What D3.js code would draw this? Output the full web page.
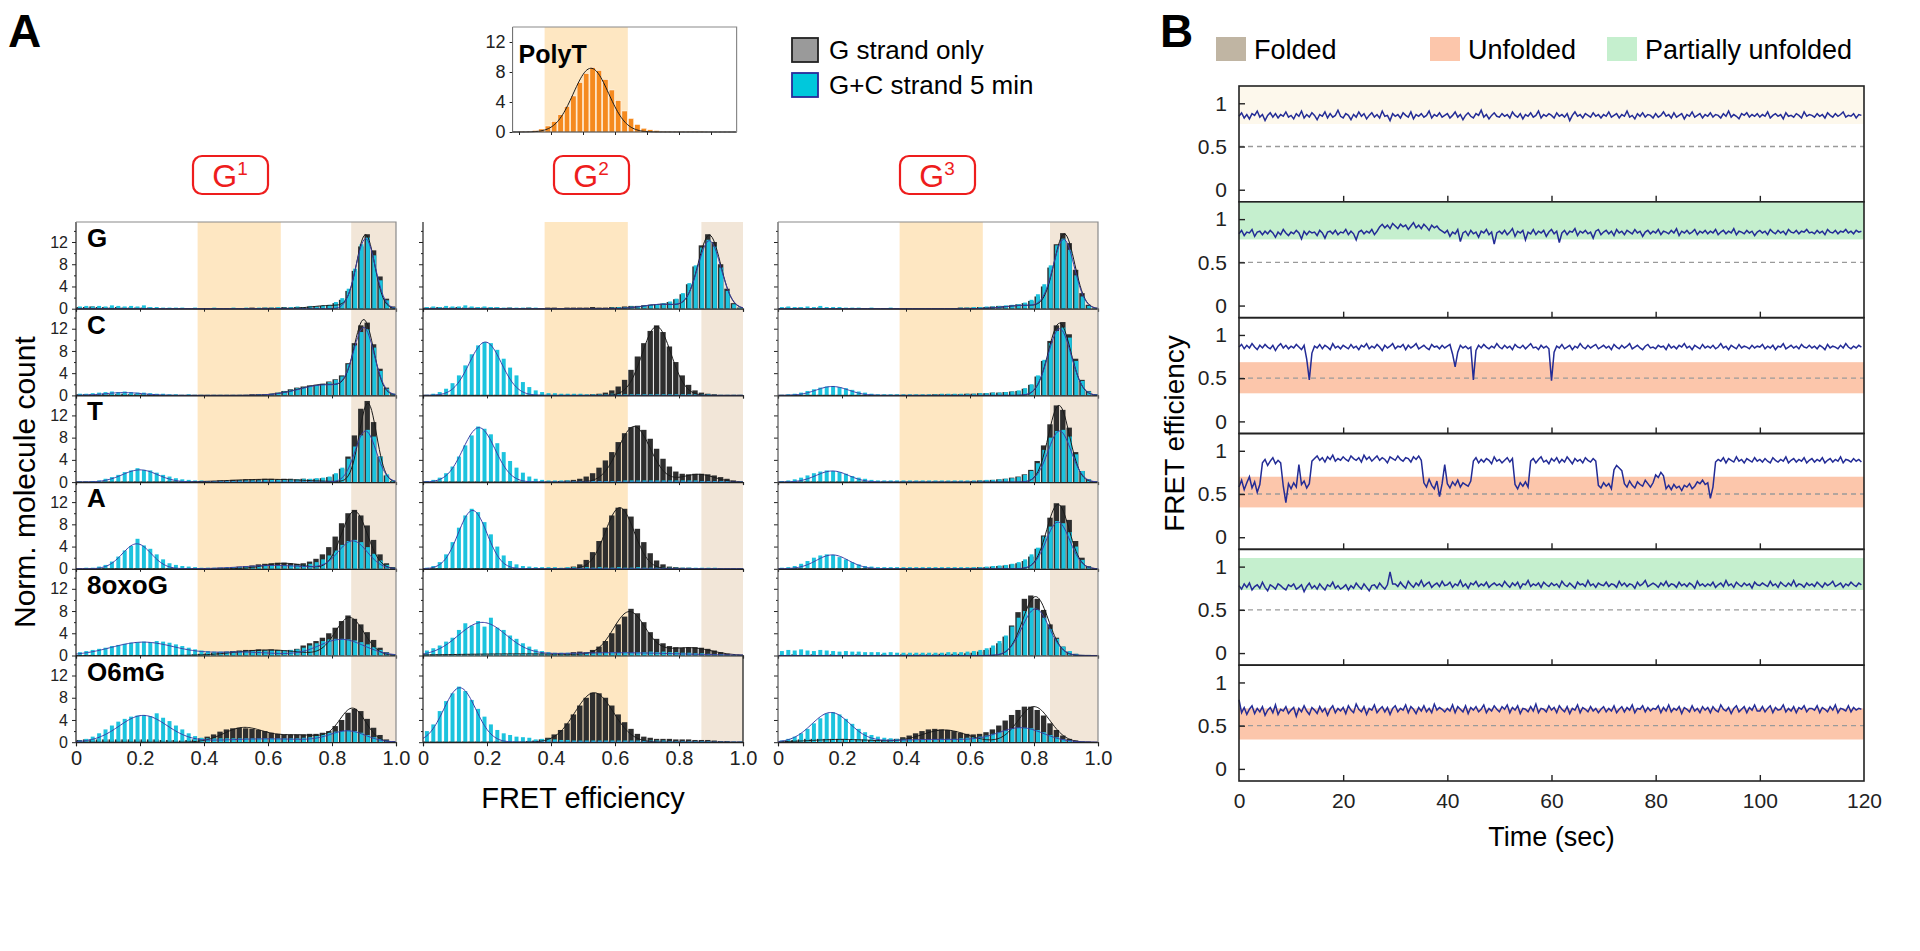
<!DOCTYPE html>
<html>
<head>
<meta charset="utf-8">
<script src="https://cdn.jsdelivr.net/npm/d3@7"></script>
<style>
  body { margin: 0; background: #fff; }
  svg { font-family: "Liberation Sans", Arial, Helvetica, sans-serif; }
</style>
</head>
<body>
<svg id="fig" width="1920" height="951"></svg>
<script>
/* global d3 */

/* ---------- Panel A data: normalised counts per FRET bin (0.02 wide, 0..1) ---------- */
var rowNames = ['G', 'C', 'T', 'A', '8oxoG', 'O6mG'];
var colNames = ['G1', 'G2', 'G3'];
var binWidth = 0.02;
var xTicksA = [0, 0.2, 0.4, 0.6, 0.8, 1.0];
var yTicksA = [0, 4, 8, 12];
var yMinorA = [2, 6, 10, 14];

// gs = G strand only, gc = G+C strand 5 min
var G1_G_gs = [.3,.3,.4,.3,.3,.2,.3,.2,.2,.2, .2,.2,.1,.1,.1,.1,.1,.1,.1,.1, .1,.1,.1,.1,.1,.1,.1,.2,.1,.2, .2,.2,.3,.2,.3,.3,.4,.4,.5,.6, 1.0,1.6,3.2,6.8,11.2,13.4,10.5,5.8,1.8,.4];
var G1_G_gc = [.4,.5,.4,.5,.4,.6,.5,.4,.5,.4, .6,.3,.3,.2,.2,.2,.2,.1,.2,.1, .1,.2,.1,.1,.2,.1,.2,.1,.2,.2, .2,.3,.2,.3,.4,.3,.5,.4,.6,.7, 1.2,1.9,3.6,7.2,11.6,12.8,9.6,5.1,1.5,.3];
var G1_C_gs = [.2,.2,.2,.2,.3,.2,.2,.3,.2,.2, .2,.2,.2,.1,.1,.1,.1,.1,.1,.1, .1,.1,.1,.1,.1,.1,.1,.2,.2,.2, .3,.5,.8,1.1,1.4,1.6,1.8,1.9,2.1,2.5, 2.9,3.6,5.8,9.4,12.6,13.1,9.2,4.8,1.4,.3];
var G1_C_gc = [.3,.3,.4,.5,.6,.7,.6,.7,.6,.5, .5,.4,.3,.3,.2,.2,.1,.2,.1,.1, .1,.1,.1,.1,.1,.1,.1,.1,.2,.2, .3,.5,.7,1.0,1.3,1.5,1.7,1.8,2.0,2.4, 2.8,3.4,5.6,9.0,11.4,11.9,8.6,4.4,1.2,.3];
var G1_T_gs = [.1,.1,.1,.1,.1,.1,.1,.1,.1,.1, .1,.1,.1,.1,.1,.1,.1,.1,.1,.1, .2,.2,.3,.3,.4,.4,.5,.5,.5,.6, .6,.5,.6,.6,.5,.6,.5,.6,.7,.9, 1.4,2.4,4.6,8.4,13.2,14.6,10.8,4.6,1.2,.2];
var G1_T_gc = [.1,.1,.2,.3,.6,.9,1.3,1.8,2.1,2.5, 2.2,2.1,1.7,1.3,1.0,.7,.5,.4,.3,.3, .2,.2,.2,.2,.2,.3,.3,.3,.3,.4, .4,.4,.4,.5,.5,.6,.6,.7,.8,1.0, 1.6,2.6,4.2,6.4,8.4,9.4,8.2,4.6,1.4,.3];
var G1_A_gs = [.1,.1,.1,.1,.1,.1,.1,.1,.1,.1, .1,.1,.1,.1,.1,.1,.1,.1,.1,.1, .1,.1,.2,.2,.3,.4,.5,.6,.8,.9, 1.0,1.1,1.1,1.0,.9,1.0,1.3,1.8,2.6,3.9, 5.8,8.2,10.0,10.6,9.6,7.8,5.2,2.6,1.0,.3];
var G1_A_gc = [.1,.2,.2,.4,.7,1.3,2.2,3.3,4.1,5.4, 4.2,3.6,2.6,1.7,1.0,.7,.5,.4,.3,.2, .2,.2,.2,.3,.3,.3,.4,.4,.5,.5, .6,.6,.6,.6,.6,.7,.9,1.2,1.7,2.4, 3.3,4.3,5.0,5.2,4.8,3.9,2.7,1.5,.7,.2];
var G1_8oxoG_gs = [.1,.1,.1,.1,.1,.1,.1,.1,.1,.1, .1,.1,.1,.1,.1,.1,.1,.1,.2,.3, .4,.5,.6,.7,.8,.9,1.0,1.0,1.1,1.0, 1.1,1.0,.9,1.0,1.2,1.8,2.2,2.6,3.2,4.0, 5.0,6.2,7.2,6.6,5.6,4.2,2.8,1.4,.6,.2];
var G1_8oxoG_gc = [.6,.8,1.0,1.2,1.4,1.7,1.9,2.1,2.3,2.4, 2.5,2.4,2.6,2.5,2.3,2.0,1.7,1.4,1.1,.9, .8,.7,.7,.7,.7,.8,.8,.8,.8,.9, .9,.9,.9,1.0,1.1,1.4,1.8,2.2,2.6,2.9, 3.0,3.0,2.9,2.7,2.4,2.0,1.5,1.0,.5,.2];
var G1_O6mG_gs = [.4,.5,.5,.5,.5,.5,.5,.5,.5,.5, .5,.5,.5,.4,.4,.4,.3,.4,.5,.7, 1.0,1.4,1.9,2.3,2.5,2.6,2.5,2.4,2.2,2.0, 1.7,1.5,1.4,1.4,1.4,1.4,1.5,1.5,1.7,2.0, 2.9,4.0,5.3,6.0,5.6,4.2,2.6,1.3,.5,.2];
var G1_O6mG_gc = [.3,.6,1.0,1.6,2.3,3.0,3.7,4.2,4.6,4.8, 4.9,4.7,5.2,4.4,3.8,3.0,2.3,1.6,1.1,.8, .7,.7,.7,.7,.7,.7,.7,.7,.7,.7, .7,.7,.7,.7,.7,.8,.9,1.1,1.4,1.7, 1.9,2.0,2.1,2.0,1.7,1.3,.9,.6,.3,.1];

var G2_G_gs = [.2,.2,.3,.2,.2,.3,.2,.2,.2,.2, .2,.2,.1,.2,.1,.1,.2,.1,.1,.2, .2,.1,.2,.2,.2,.2,.3,.2,.2,.3, .3,.4,.5,.5,.6,.7,.8,.9,1.2,1.7, 2.6,4.4,7.6,11.4,13.4,12.0,8.0,3.6,1.0,.2];
var G2_G_gc = [.3,.4,.3,.5,.4,.4,.6,.4,.3,.4, .3,.3,.2,.2,.2,.2,.2,.2,.1,.1, .1,.1,.1,.1,.1,.1,.1,.1,.1,.2, .3,.3,.4,.5,.6,.7,.8,1.0,1.3,1.8, 2.8,4.6,7.8,11.0,12.4,11.2,7.4,3.2,.8,.2];
var G2_C_gs = [.1,.1,.1,.1,.1,.1,.1,.1,.1,.1, .1,.1,.1,.1,.1,.1,.1,.1,.1,.1, .1,.1,.1,.1,.1,.1,.2,.3,.5,.9, 1.6,2.8,4.6,7.0,9.4,11.6,12.6,11.4,8.8,6.0, 3.6,1.9,.9,.5,.3,.2,.1,.1,.1,.1];
var G2_C_gc = [.1,.3,.6,1.2,2.2,3.6,5.4,7.4,9.0,9.6, 9.4,8.2,6.6,5.0,3.6,2.4,1.5,.9,.6,.4, .4,.3,.3,.3,.3,.2,.2,.2,.2,.3, .2,.2,.2,.2,.2,.2,.2,.2,.2,.2, .2,.2,.2,.2,.2,.1,.1,.1,.1,.1];
var G2_T_gs = [.1,.1,.1,.1,.1,.1,.1,.1,.1,.1, .1,.1,.1,.1,.1,.1,.1,.1,.1,.1, .1,.2,.3,.4,.6,1.0,1.6,2.6,3.9,5.4, 7.2,8.8,9.9,10.2,9.4,7.8,6.0,4.2,2.8,1.9, 1.5,1.4,1.5,1.5,1.4,1.2,.9,.6,.3,.1];
var G2_T_gc = [.2,.4,.8,1.6,2.8,4.6,6.6,8.4,10.0,9.6, 8.6,7.0,5.4,3.8,2.6,1.7,1.0,.6,.4,.3, .3,.3,.3,.2,.2,.2,.2,.2,.2,.2, .2,.3,.3,.3,.3,.3,.3,.3,.3,.3, .3,.3,.3,.2,.2,.2,.2,.2,.1,.1];
var G2_A_gs = [.1,.1,.1,.1,.1,.1,.1,.1,.1,.1, .1,.1,.1,.1,.1,.1,.1,.1,.1,.1, .1,.1,.2,.4,.8,1.6,3.0,5.0,7.4,9.6, 11.0,10.8,9.4,7.2,4.8,2.8,1.5,.8,.4,.3, .2,.2,.1,.1,.1,.1,.1,.1,.1,.1];
var G2_A_gc = [.2,.5,1.2,2.6,4.8,7.4,9.6,10.8,10.2,8.4, 6.2,4.0,2.4,1.4,.8,.5,.4,.3,.3,.3, .3,.2,.3,.3,.2,.3,.2,.3,.2,.2, .3,.2,.2,.3,.2,.2,.2,.2,.2,.2, .2,.2,.2,.2,.2,.2,.1,.1,.1,.1];
var G2_8oxoG_gs = [.2,.2,.2,.2,.2,.2,.2,.2,.2,.2, .2,.2,.2,.2,.2,.2,.2,.2,.2,.2, .3,.4,.3,.6,.7,.6,1.0,1.6,2.6,4.0, 5.6,7.0,8.4,7.6,6.0,4.2,3.0,2.2,1.7,1.5, 1.4,1.5,1.5,1.4,1.2,.9,.6,.3,.1,.1];
var G2_8oxoG_gc = [.9,1.3,1.8,2.5,3.2,4.6,5.8,5.4,6.2,5.2, 6.8,5.0,4.6,3.6,3.0,2.2,1.6,1.1,.8,.6, .5,.5,.5,.4,.4,.5,.4,.5,.5,.6, .5,.6,.5,.6,.6,.7,.6,.7,.6,.6, .5,.5,.4,.4,.3,.2,.2,.1,.1,.1];
var G2_O6mG_gs = [.1,.1,.1,.1,.1,.1,.1,.1,.1,.1, .1,.1,.1,.1,.1,.1,.2,.3,.5,.8, 1.4,2.2,3.4,5.0,6.6,8.0,8.9,8.8,8.0,6.6, 5.0,3.6,2.4,1.5,1.0,.8,.6,.6,.6,.5, .5,.5,.4,.4,.4,.3,.2,.2,.1,.1];
var G2_O6mG_gc = [2.0,3.2,5.6,7.4,8.8,10.0,9.2,7.6,6.0,4.6, 3.2,2.2,1.6,1.3,1.0,.9,.8,.5,.6,.6, .5,.4,.4,.3,.3,.3,.3,.3,.3,.3, .3,.3,.3,.3,.3,.3,.3,.3,.2,.2, .2,.2,.2,.2,.2,.1,.1,.1,.1,.1];

var G3_G_gs = [.1,.2,.1,.2,.1,.1,.2,.1,.1,.1, .1,.1,.1,.1,.1,.1,.1,.1,.1,.1, .1,.1,.1,.1,.1,.1,.1,.1,.2,.2, .2,.3,.3,.4,.5,.5,.6,.8,1.0,1.4, 2.2,4.0,7.4,11.6,13.6,11.8,7.0,2.8,.7,.1];
var G3_G_gc = [.3,.4,.3,.3,.4,.3,.5,.3,.3,.3, .2,.2,.2,.1,.2,.1,.1,.2,.1,.1, .1,.1,.1,.1,.1,.1,.1,.1,.2,.2, .3,.3,.4,.4,.5,.6,.7,.8,1.1,1.6, 2.6,4.4,7.8,11.4,12.6,10.6,6.0,2.2,.5,.1];
var G3_C_gs = [.1,.1,.1,.1,.1,.1,.1,.1,.1,.1, .1,.1,.1,.1,.1,.1,.1,.1,.1,.1, .1,.1,.1,.1,.2,.2,.2,.2,.2,.3, .3,.4,.4,.5,.5,.6,.7,.8,1.2,1.9, 3.4,6.2,9.8,12.6,13.2,11.0,6.6,2.8,.8,.2];
var G3_C_gc = [.1,.2,.3,.5,.8,1.1,1.4,1.6,1.7,1.5, 1.3,1.0,.7,.5,.3,.2,.2,.2,.2,.2, .2,.2,.2,.2,.2,.3,.3,.3,.3,.3, .3,.4,.4,.5,.5,.6,.7,.9,1.3,2.0, 3.6,6.4,9.4,11.6,12.2,10.4,6.2,2.6,.7,.2];
var G3_T_gs = [.1,.1,.1,.1,.1,.1,.1,.1,.1,.1, .1,.1,.1,.1,.1,.1,.1,.1,.1,.1, .1,.1,.1,.1,.1,.1,.1,.1,.1,.1, .2,.3,.3,.4,.5,.6,.8,1.0,1.4,2.2, 3.8,6.6,10.4,13.8,13.0,9.8,5.4,2.0,.5,.1];
var G3_T_gc = [.2,.3,.5,.8,1.2,1.6,1.9,2.1,2.0,1.8, 1.5,1.1,.8,.6,.4,.3,.3,.3,.3,.3, .3,.3,.3,.3,.3,.3,.3,.3,.3,.3, .3,.3,.4,.4,.5,.6,.7,.9,1.3,2.0, 3.4,5.8,8.0,9.2,9.4,8.2,5.0,2.0,.5,.1];
var G3_A_gs = [.1,.1,.1,.1,.1,.1,.1,.1,.1,.1, .1,.1,.1,.1,.1,.1,.1,.1,.1,.1, .1,.1,.1,.1,.1,.1,.1,.1,.1,.1, .2,.3,.3,.4,.5,.6,.8,1.0,1.4,2.2, 3.6,6.0,9.2,11.8,11.4,8.8,5.0,2.0,.5,.1];
var G3_A_gc = [.2,.3,.5,.9,1.4,2.0,2.4,2.6,2.5,2.1, 1.7,1.2,.8,.5,.4,.3,.3,.3,.3,.3, .3,.3,.3,.3,.3,.3,.3,.3,.3,.3, .3,.3,.4,.5,.6,.7,.9,1.2,1.7,2.6, 3.8,5.8,7.6,8.6,8.2,6.6,4.0,1.6,.4,.1];
var G3_8oxoG_gs = [.1,.1,.2,.1,.1,.2,.1,.1,.2,.1, .1,.1,.2,.1,.1,.1,.2,.1,.1,.2, .2,.2,.2,.2,.2,.3,.3,.3,.3,.4, .5,.7,1.0,1.4,2.2,3.4,5.4,7.8,10.2,10.8, 10.2,8.2,5.6,3.2,1.6,.7,.3,.1,.1,0];
var G3_8oxoG_gc = [.8,1.0,.9,1.1,.9,.8,1.0,.9,.8,.7, .8,.7,.7,.6,.6,.6,.5,.6,.5,.5, .5,.5,.5,.5,.5,.5,.6,.6,.6,.7, .8,1.0,1.3,1.8,2.6,3.6,5.2,6.8,8.0,8.6, 8.2,6.8,4.8,3.0,1.6,.8,.3,.1,.1,0];
var G3_O6mG_gs = [.2,.3,.4,.5,.6,.6,.6,.6,.6,.6, .6,.5,.5,.5,.4,.4,.4,.5,.6,.9, 1.2,1.6,2.0,2.3,2.4,2.3,2.2,2.0,1.7,1.5, 1.4,1.5,1.8,2.3,3.0,3.9,4.9,5.8,6.4,6.4, 5.8,4.8,3.4,2.2,1.2,.6,.3,.1,.1,0];
var G3_O6mG_gc = [.3,.6,1.0,1.6,2.4,3.4,4.3,5.2,5.4,5.0, 4.2,3.3,2.4,1.8,1.3,1.0,.8,.7,.6,.6, .5,.5,.5,.5,.5,.6,.6,.6,.7,.8, .9,1.0,1.2,1.5,1.8,2.1,2.4,2.6,2.6,2.5, 2.2,1.8,1.3,.9,.5,.3,.1,.1,0,0];

var polyT = [0,0,0,0,0,0,0,0,0,0, 0,0,0,0,0,.1,.1,.2,.4,.8, 1.4,2.3,3.4,4.8,6.6,7.8,8.6,8.2,7.0,5.6, 4.2,2.8,1.8,1.0,.5,.3,.2,.1,.1,.1, .1,.1,.1,.1,0,0,0,0,0,0];

// Gaussian fit components [amplitude, centre, sigma]; per row: [G strand only, G+C strand]
var fitG1 = [
  [[[13.2, .905, .028], [.6, .8, .06]], [[12.6, .905, .03]]],
  [[[13, .9, .03], [2, .78, .08]], [[11.6, .9, .032], [1.9, .78, .08], [.5, .15, .06]]],
  [[[14.2, .912, .027], [.5, .6, .12]], [[9.2, .905, .033], [2.2, .2, .055]]],
  [[[10.4, .87, .04], [1.0, .65, .06]], [[4.5, .19, .045], [5.0, .865, .045], [.6, .62, .1]]],
  [[[6.8, .855, .045], [1.0, .6, .1]], [[2.4, .21, .1], [2.9, .83, .07], [.6, .52, .1]]],
  [[[2.4, .52, .06], [5.8, .865, .04], [1.3, .7, .1]], [[4.8, .21, .075], [1.9, .85, .055], [.6, .6, .15]]]
];
var fitG2 = [
  [[[13.2, .895, .035], [.8, .75, .06]], [[12.2, .895, .036], [.8, .75, .06]]],
  [[[12.4, .73, .045]], [[9.6, .195, .05]]],
  [[[10, .66, .05], [1.4, .86, .05]], [[9.8, .175, .05]]],
  [[[11, .615, .045]], [[10.5, .155, .045]]],
  [[[7.8, .645, .05], [1.4, .83, .07], [.3, .3, .2]], [[5.9, .185, .075], [.5, .6, .2]]],
  [[[8.9, .535, .06]], [[9.8, .115, .05]]]
];
var fitG3 = [
  [[[13.4, .895, .032], [.6, .77, .06]], [[12.4, .893, .033], [.6, .77, .06]]],
  [[[13, .88, .035]], [[12, .88, .036], [1.6, .17, .05]]],
  [[[13.8, .878, .033]], [[9.2, .88, .036], [2.0, .17, .05]]],
  [[[11.6, .875, .035]], [[8.4, .875, .037], [2.5, .17, .05]]],
  [[[10.6, .805, .04]], [[8.4, .805, .042]]],
  [[[2.2, .52, .07], [6.4, .8, .05], [.5, .2, .1]], [[5.3, .165, .06], [2.5, .76, .07], [.5, .5, .15]]]
];
var fitPolyT = [[8.5, .525, .055]];

/* ---------- Panel B data: smFRET traces (x100), one sample every 0.5 s ---------- */
var sampleStep = 0.5;
var timeTicks = [0, 20, 40, 60, 80, 100, 120];
var fretTicks = [0, 0.5, 1];
var fretDomain = [-0.14, 1.2];
var stateNames = ['Folded', 'Unfolded', 'Partially unfolded'];
// shaded state band [low, high] for each trace
var traceBands = [[0.76, 1.2], [0.765, 1.2], [0.325, 0.685], [0.345, 0.70], [0.73, 1.1], [0.34, 0.70]];
var traceBandState = ['pale', 'Partially unfolded', 'Unfolded', 'Unfolded', 'Partially unfolded', 'Unfolded'];

var trace1 = [85,89,83,87,82,88,86,91,84,87,80,86,89,84,88,83,87,85,90,84,
  86,82,88,85,91,83,87,84,89,86,81,87,85,90,83,88,84,86,92,85,
  83,88,86,81,87,84,90,85,88,82,86,89,84,87,83,91,85,86,80,88,
  85,87,83,89,86,84,90,82,87,85,88,84,86,91,83,87,85,89,84,86,
  88,83,86,90,84,87,81,86,89,85,83,88,86,92,84,87,82,86,89,85,
  84,88,85,87,83,90,86,84,88,82,87,85,89,84,86,91,83,87,85,88,
  86,83,89,85,87,84,88,80,86,90,85,87,83,88,86,84,89,85,87,83,
  87,85,90,84,86,88,83,87,85,91,84,86,82,88,85,89,84,87,86,83,
  88,84,86,90,85,87,83,89,84,86,88,82,87,85,90,84,86,88,83,87,
  85,89,84,87,86,83,88,85,91,84,87,85,82,88,86,89,84,87,85,88,
  84,87,85,90,83,86,88,85,87,82,89,85,86,84,88,86,83,90,85,87,
  86,84,88,85,87,83,89,86,84,88,85,87,90,84,86,85,88,83,87,86];
var trace2 = [83,87,81,85,84,88,80,85,86,82,86,83,87,84,79,85,82,88,84,81,
  85,83,87,84,77,86,82,86,84,85,81,87,84,78,85,86,83,87,82,85,
  84,88,82,86,83,76,85,87,83,86,84,88,82,86,91,94,90,93,89,95,
  92,89,94,91,93,88,92,96,90,93,89,94,91,87,93,90,92,88,86,84,
  87,80,85,83,88,74,84,86,81,87,83,85,79,86,84,88,82,85,71,84,
  86,83,87,82,85,89,80,86,84,87,76,85,83,88,82,86,84,87,80,85,
  88,83,86,73,84,87,82,86,85,89,81,86,84,87,83,85,78,86,88,82,
  85,87,83,86,81,88,84,86,82,87,85,83,88,84,86,80,85,87,83,86,
  84,88,82,86,85,83,87,84,89,81,86,84,87,83,85,88,82,86,84,87,
  83,86,84,88,82,85,87,83,86,84,89,82,86,85,83,87,84,86,81,85,
  87,84,86,82,88,85,83,87,84,86,82,88,85,84,87,83,86,85,88,84,
  85,83,87,84,86,82,88,85,84,87,83,86,85,88,84,86,83,87,85,86];
var trace3 = [86,89,84,88,85,90,86,83,88,85,89,86,84,88,82,87,90,85,88,84,
  87,85,89,86,83,88,72,48,79,87,85,89,84,88,86,83,90,85,87,84,
  88,86,84,89,85,87,83,88,86,90,84,87,85,89,86,82,88,85,87,90,
  84,87,86,89,83,88,85,87,90,84,86,88,85,83,89,86,87,84,88,85,
  87,89,78,63,80,88,85,87,84,86,48,82,88,85,89,86,84,87,85,90,
  86,84,88,85,87,83,89,86,85,88,84,87,90,85,86,83,88,85,87,84,
  47,80,87,85,89,84,86,88,83,87,85,90,86,84,88,85,87,89,84,86,
  88,85,87,83,89,86,84,88,85,87,90,84,86,88,85,83,87,89,85,86,
  84,88,86,87,83,89,85,87,84,88,86,90,85,87,83,88,86,84,89,85,
  87,85,88,84,86,90,85,87,83,88,86,84,89,85,87,86,84,88,85,87,
  86,89,84,87,85,88,83,87,86,90,84,86,88,85,87,84,89,86,85,88,
  85,87,84,88,86,83,89,85,87,86,84,88,85,90,86,84,87,85,88,86];
var trace4 = [58,66,55,63,70,57,64,52,61,86,90,83,88,92,85,89,86,59,40,62,
  56,63,58,84,61,65,57,62,88,91,94,89,92,87,93,90,95,88,91,89,
  93,90,88,94,91,89,92,87,95,90,93,88,91,94,89,92,90,86,93,91,
  89,94,90,88,92,91,87,93,90,94,89,63,58,67,60,56,65,47,62,84,
  62,57,64,60,66,58,63,61,59,65,88,92,86,90,87,91,89,85,93,88,
  90,86,89,92,87,91,61,56,63,59,64,58,88,91,86,90,93,87,89,85,
  91,88,92,86,90,87,93,89,85,91,88,90,86,92,89,87,91,88,60,57,
  63,59,62,56,78,83,80,77,62,58,65,60,57,64,61,59,66,62,58,63,
  72,69,75,71,56,60,55,61,57,59,54,60,58,62,56,59,64,62,66,61,
  63,45,58,87,90,88,92,86,91,89,87,93,88,90,86,91,89,87,92,88,
  90,87,91,88,86,92,89,87,90,88,93,86,89,91,87,90,88,92,86,89,
  91,87,90,88,92,86,89,91,87,90,88,93,86,90,89,87,91,88,90,87];
var trace5 = [78,74,80,76,81,73,77,79,75,82,76,72,79,77,74,80,78,75,73,79,
  77,80,74,76,79,71,77,81,75,78,74,80,76,73,79,77,82,75,78,74,
  76,79,73,78,75,81,77,74,80,76,72,78,79,75,81,77,74,79,94,80,
  80,77,82,78,75,83,79,76,81,78,84,77,80,82,76,79,81,77,83,78,
  79,82,76,80,78,84,77,80,75,81,79,83,77,80,78,82,76,79,81,78,
  80,77,83,79,76,81,78,82,75,80,79,84,77,80,78,81,76,82,79,77,
  81,78,80,76,83,79,77,81,78,75,82,79,80,77,84,78,80,76,81,79,
  78,82,77,80,79,76,83,78,81,77,80,79,75,82,78,80,84,77,79,81,
  79,76,81,78,83,77,80,79,76,82,78,80,77,81,79,75,83,78,80,77,
  80,78,82,76,79,81,77,84,78,80,76,82,79,77,81,78,80,75,82,79,
  78,81,79,77,83,78,80,76,82,79,77,81,78,84,77,80,79,76,81,78,
  80,77,82,79,76,81,78,80,83,77,79,81,76,80,78,82,79,77,81,79];
var trace6 = [80,65,71,63,69,73,64,70,66,72,62,68,71,65,74,63,69,67,72,64,
  68,71,61,70,66,73,67,63,71,68,64,72,66,70,62,69,73,65,70,67,
  71,64,73,68,65,75,69,66,72,63,70,68,74,65,69,72,66,71,63,70,
  73,66,70,68,74,65,72,69,64,71,67,73,66,70,65,75,68,71,69,66,
  70,67,74,65,72,69,66,73,64,71,68,72,66,69,74,65,70,67,73,69,
  66,72,69,74,65,71,68,73,64,70,69,66,72,67,75,65,70,69,66,73,
  68,71,65,73,69,66,72,64,70,68,74,65,71,69,66,72,67,70,65,69,
  72,66,70,67,73,65,69,72,66,71,68,74,65,70,69,73,66,71,67,70,
  69,73,65,71,67,74,66,70,68,72,64,71,69,66,73,67,70,65,72,68,
  71,65,72,68,66,74,69,67,71,64,70,73,66,69,72,65,71,68,74,67,
  67,72,66,70,73,65,71,68,69,74,66,70,67,72,65,71,69,73,66,70,
  70,68,73,65,71,69,66,72,68,74,65,70,69,67,73,66,71,68,70,69];

/* ---------- tables built from the arrays ---------- */
var hist = {
  G1: [[G1_G_gs, G1_G_gc], [G1_C_gs, G1_C_gc], [G1_T_gs, G1_T_gc], [G1_A_gs, G1_A_gc], [G1_8oxoG_gs, G1_8oxoG_gc], [G1_O6mG_gs, G1_O6mG_gc]],
  G2: [[G2_G_gs, G2_G_gc], [G2_C_gs, G2_C_gc], [G2_T_gs, G2_T_gc], [G2_A_gs, G2_A_gc], [G2_8oxoG_gs, G2_8oxoG_gc], [G2_O6mG_gs, G2_O6mG_gc]],
  G3: [[G3_G_gs, G3_G_gc], [G3_C_gs, G3_C_gc], [G3_T_gs, G3_T_gc], [G3_A_gs, G3_A_gc], [G3_8oxoG_gs, G3_8oxoG_gc], [G3_O6mG_gs, G3_O6mG_gc]]
};
var fits = { G1: fitG1, G2: fitG2, G3: fitG3 };
var traces = [trace1, trace2, trace3, trace4, trace5, trace6];

/* ---------- layout & style ---------- */
var FONT = '"Liberation Sans", Arial, Helvetica, sans-serif';
var colLeft = [76, 423, 778];
var colWidth = 320;
var rowTop = 222;
var rowHeight = 86.7;
var yMax = 15.6;
var unfoldedBand = [0.38, 0.64];
var foldedBand = [[0.86, 1.0], [0.87, 1.0], [0.85, 1.0]];
var boxCentre = [230, 591, 937];

var C = {
  gs: '#2e2e2e', gc: '#1cc3de', gcFit: '#3a3ea6', gsFit: '#1a1a1a',
  orangeBand: '#fee7c2', tanBand: '#f2e6d8', frame: '#8a8a8a', red: '#ee1d1d',
  polyT: '#f58a1f', trace: '#232c96',
  states: { 'Folded': '#c0b5a3', 'Unfolded': '#fcc6ab', 'Partially unfolded': '#c5efce', 'pale': '#fdf8ec' }
};

var svg = d3.select('#fig');

function gaussSum(comps, v) {
  return d3.sum(comps, function(c) {
    return c[0] * Math.exp(-(v - c[1]) * (v - c[1]) / (2 * c[2] * c[2]));
  });
}

function styleAxis(sel, size) {
  sel.attr('font-family', FONT);
  sel.selectAll('text').attr('font-size', size).attr('fill', '#222');
  sel.selectAll('line').attr('stroke', '#222');
  sel.select('.domain').attr('stroke', '#222');
}

function drawBars(g, x, y, values, kind, lo, hi, top) {
  var bw = x(binWidth) - x(0);
  var data = values.map(function(v, i) { return { v: v, x0: i * binWidth }; })
    .filter(function(d) { return d.x0 >= lo - 1e-9 && d.x0 + binWidth <= hi + 1e-9 && d.v > 0; });
  g.append('g').selectAll('rect').data(data).enter().append('rect')
    .attr('x', function(d) { return x(d.x0) + (kind === 'gc' ? bw * 0.3 : 0.5); })
    .attr('width', kind === 'gc' ? bw * 0.62 : bw - 1)
    .attr('y', function(d) { return y(Math.min(d.v, top)); })
    .attr('height', function(d) { return y(0) - y(Math.min(d.v, top)); })
    .attr('fill', kind === 'gc' ? C.gc : (kind === 'poly' ? C.polyT : C.gs))
    .attr('stroke', kind === 'poly' ? '#fff' : 'none').attr('stroke-width', 0.5);
}

function drawFit(g, x, y, comps, color, lo, hi, top) {
  var pts = d3.range(lo, hi + 1e-9, 0.004);
  var line = d3.line()
    .x(function(v) { return x(v); })
    .y(function(v) { return y(Math.min(gaussSum(comps, v), top)); });
  g.append('path').datum(pts).attr('d', line)
    .attr('fill', 'none').attr('stroke', color).attr('stroke-width', 1);
}

/* ---------- Panel A ---------- */
svg.append('text').attr('x', 8).attr('y', 47)
  .attr('font-size', 46).attr('font-weight', 'bold').text('A');

var panelA = svg.append('g');

colNames.forEach(function(cn, c) {
  var x = d3.scaleLinear().domain([0, 1]).range([colLeft[c], colLeft[c] + colWidth]);
  var g = panelA.append('g');
  var bottom = rowTop + 6 * rowHeight;

  g.append('rect').attr('x', x(unfoldedBand[0])).attr('y', rowTop)
    .attr('width', x(unfoldedBand[1]) - x(unfoldedBand[0])).attr('height', bottom - rowTop)
    .attr('fill', C.orangeBand);
  g.append('rect').attr('x', x(foldedBand[c][0])).attr('y', rowTop)
    .attr('width', x(foldedBand[c][1]) - x(foldedBand[c][0])).attr('height', bottom - rowTop)
    .attr('fill', C.tanBand);

  rowNames.forEach(function(rn, r) {
    var y = d3.scaleLinear().domain([0, yMax]).range([rowTop + (r + 1) * rowHeight, rowTop + r * rowHeight]);
    var h = hist[cn][r];
    var f = fits[cn][r];
    drawBars(g, x, y, h[0], 'gs', 0, 1, yMax);
    drawBars(g, x, y, h[1], 'gc', 0, 1, yMax);
    drawFit(g, x, y, f[0], C.gsFit, 0, 1, yMax);
    drawFit(g, x, y, f[1], C.gcFit, 0, 1, yMax);

    var yAx = g.append('g').attr('transform', 'translate(' + colLeft[c] + ',0)')
      .call(d3.axisLeft(y).tickValues(yTicksA).tickSize(4).tickPadding(4)
        .tickFormat(c === 0 ? d3.format('d') : ''));
    styleAxis(yAx, 16);
    yAx.select('.domain').remove();
    var yMin = g.append('g').attr('transform', 'translate(' + colLeft[c] + ',0)')
      .call(d3.axisLeft(y).tickValues(yMinorA).tickSize(2).tickFormat(''));
    styleAxis(yMin, 10);
    yMin.select('.domain').remove();

    var last = r === rowNames.length - 1;
    var xAx = g.append('g').attr('transform', 'translate(0,' + y(0) + ')')
      .call(d3.axisBottom(x).tickValues(xTicksA).tickSize(last ? 4 : 3).tickPadding(5)
        .tickFormat(last ? function(d) { return d === 0 ? '0' : d3.format('.1f')(d); } : ''));
    styleAxis(xAx, 20);
    xAx.select('.domain').attr('stroke-width', 1.2);

    if (c === 0) {
      g.append('text').attr('x', colLeft[c] + 11).attr('y', rowTop + r * rowHeight + 25)
        .attr('font-size', 26).attr('font-weight', 'bold').text(rn);
    }
  });

  // left axis line
  g.append('line').attr('x1', colLeft[c]).attr('x2', colLeft[c])
    .attr('y1', rowTop).attr('y2', bottom).attr('stroke', c === 2 ? '#555' : '#222').attr('stroke-width', 1.2);
  // frames
  if (c !== 1) {
    g.append('path')
      .attr('d', 'M' + colLeft[c] + ',' + rowTop + 'H' + (colLeft[c] + colWidth) + 'V' + bottom)
      .attr('fill', 'none').attr('stroke', C.frame).attr('stroke-width', 1.2);
  } else {
    g.append('line').attr('x1', colLeft[c] + colWidth).attr('x2', colLeft[c] + colWidth)
      .attr('y1', rowTop + 5 * rowHeight).attr('y2', bottom).attr('stroke', '#333').attr('stroke-width', 1.4);
  }

  // G1 / G2 / G3 boxed labels
  var bx = boxCentre[c];
  svg.append('rect').attr('x', bx - 37).attr('y', 156).attr('width', 75).attr('height', 38)
    .attr('rx', 9).attr('fill', 'none').attr('stroke', C.red).attr('stroke-width', 2.2);
  var lt = svg.append('text').attr('x', bx).attr('y', 187).attr('text-anchor', 'middle')
    .attr('fill', C.red).attr('font-size', 32);
  lt.append('tspan').text('G');
  lt.append('tspan').attr('font-size', 19).attr('dy', -12).text(cn.slice(1));
});

// axis titles
svg.append('text').attr('transform', 'translate(35,' + (rowTop + 3 * rowHeight) + ') rotate(-90)')
  .attr('text-anchor', 'middle').attr('font-size', 30).text('Norm. molecule count');
svg.append('text').attr('x', colLeft[1] + colWidth / 2).attr('y', 808)
  .attr('text-anchor', 'middle').attr('font-size', 29).text('FRET efficiency');

/* PolyT inset */
(function() {
  var dom = [0.28, 0.98];
  var polyMax = 14;
  var x = d3.scaleLinear().domain([0, 1]).range([colLeft[1], colLeft[1] + colWidth]);
  var top = 27, base = 132;
  var y = d3.scaleLinear().domain([0, polyMax]).range([base, top]);
  var g = svg.append('g');
  g.append('rect').attr('x', x(unfoldedBand[0])).attr('y', top)
    .attr('width', x(unfoldedBand[1]) - x(unfoldedBand[0])).attr('height', base - top)
    .attr('fill', C.orangeBand);
  drawBars(g, x, y, polyT, 'poly', dom[0], dom[1], polyMax);
  drawFit(g, x, y, fitPolyT, C.gsFit, dom[0], dom[1], polyMax);
  var yAx = g.append('g').attr('transform', 'translate(' + x(dom[0]) + ',0)')
    .call(d3.axisLeft(y).tickValues(yTicksA).tickSize(3).tickPadding(4).tickFormat(d3.format('d')));
  styleAxis(yAx, 18);
  yAx.select('.domain').remove();
  var xAx = g.append('g').attr('transform', 'translate(0,' + base + ')')
    .call(d3.axisBottom(x).tickValues(d3.range(0.3, 0.95, 0.1)).tickSize(3).tickFormat(''));
  styleAxis(xAx, 10);
  xAx.select('.domain').remove();
  g.append('line').attr('x1', x(dom[0])).attr('x2', x(dom[1])).attr('y1', base).attr('y2', base)
    .attr('stroke', '#333').attr('stroke-width', 1);
  g.append('line').attr('x1', x(dom[0])).attr('x2', x(dom[0])).attr('y1', top).attr('y2', base)
    .attr('stroke', '#666').attr('stroke-width', 1);
  g.append('path').attr('d', 'M' + x(dom[0]) + ',' + top + 'H' + x(dom[1]) + 'V' + base)
    .attr('fill', 'none').attr('stroke', C.frame).attr('stroke-width', 1.2);
  g.append('text').attr('x', x(dom[0]) + 6).attr('y', 63)
    .attr('font-size', 25).attr('font-weight', 'bold').text('PolyT');
})();

/* legend A */
var legendA = [['G strand only', '#9a9a9a', '#222'], ['G+C strand 5 min', '#00c8dc', '#2a2a9a']];
legendA.forEach(function(d, i) {
  var yy = 38 + i * 35;
  svg.append('rect').attr('x', 792).attr('y', yy).attr('width', 26).attr('height', 24)
    .attr('fill', d[1]).attr('stroke', d[2]).attr('stroke-width', 1.8);
  svg.append('text').attr('x', 829).attr('y', yy + 21).attr('font-size', 26).text(d[0]);
});

/* ---------- Panel B ---------- */
svg.append('text').attr('x', 1160).attr('y', 47)
  .attr('font-size', 46).attr('font-weight', 'bold').text('B');

var legendBx = [1216, 1430, 1607];
stateNames.forEach(function(s, i) {
  svg.append('rect').attr('x', legendBx[i]).attr('y', 37).attr('width', 30).attr('height', 24)
    .attr('fill', C.states[s]);
  svg.append('text').attr('x', legendBx[i] + 38).attr('y', 59).attr('font-size', 27).text(s);
});

var bLeft = 1239, bRight = 1864, bTop = 86, bBottom = 781;
var bH = (bBottom - bTop) / traces.length;
var xt = d3.scaleLinear().domain([0, 120]).range([bLeft, bRight]);
var panelB = svg.append('g');

traces.forEach(function(tr, k) {
  var y = d3.scaleLinear().domain(fretDomain).range([bTop + (k + 1) * bH, bTop + k * bH]);
  var g = panelB.append('g');
  var band = traceBands[k];
  var hiB = Math.min(band[1], fretDomain[1]);
  g.append('rect').attr('x', bLeft).attr('width', bRight - bLeft)
    .attr('y', y(hiB)).attr('height', y(band[0]) - y(hiB))
    .attr('fill', C.states[traceBandState[k]]);
  g.append('line').attr('x1', bLeft).attr('x2', bRight).attr('y1', y(0.5)).attr('y2', y(0.5))
    .attr('stroke', '#9a9a9a').attr('stroke-width', 1.3).attr('stroke-dasharray', '5,4');
  var line = d3.line()
    .x(function(d, i) { return xt(i * sampleStep); })
    .y(function(d) { return y(d / 100); });
  g.append('path').datum(tr).attr('d', line)
    .attr('fill', 'none').attr('stroke', C.trace).attr('stroke-width', 1.5);

  var yAx = g.append('g').attr('transform', 'translate(' + bLeft + ',0)')
    .call(d3.axisLeft(y).tickValues(fretTicks).tickSize(-6).tickPadding(12)
      .tickFormat(function(d) { return d === 0.5 ? '0.5' : d3.format('d')(d); }));
  styleAxis(yAx, 21);
  yAx.select('.domain').remove();
  yAx.selectAll('line').attr('stroke-width', 1.4);

  var xAx = g.append('g').attr('transform', 'translate(0,' + (bTop + (k + 1) * bH) + ')')
    .call(d3.axisBottom(xt).tickValues(timeTicks.slice(1, -1)).tickSize(-6).tickFormat(''));
  styleAxis(xAx, 10);
  xAx.select('.domain').remove();
  xAx.selectAll('line').attr('stroke-width', 1.4);

  g.append('rect').attr('x', bLeft).attr('y', bTop + k * bH).attr('width', bRight - bLeft).attr('height', bH)
    .attr('fill', 'none').attr('stroke', '#222').attr('stroke-width', 1.6);
});

var xLab = panelB.append('g').attr('transform', 'translate(0,' + bBottom + ')')
  .call(d3.axisBottom(xt).tickValues(timeTicks).tickSize(0).tickPadding(12));
styleAxis(xLab, 21);
xLab.select('.domain').remove();

svg.append('text').attr('x', (bLeft + bRight) / 2).attr('y', 846)
  .attr('text-anchor', 'middle').attr('font-size', 27).text('Time (sec)');
svg.append('text').attr('transform', 'translate(1184,' + ((bTop + bBottom) / 2) + ') rotate(-90)')
  .attr('text-anchor', 'middle').attr('font-size', 28).text('FRET efficiency');
</script>
</body>
</html>
